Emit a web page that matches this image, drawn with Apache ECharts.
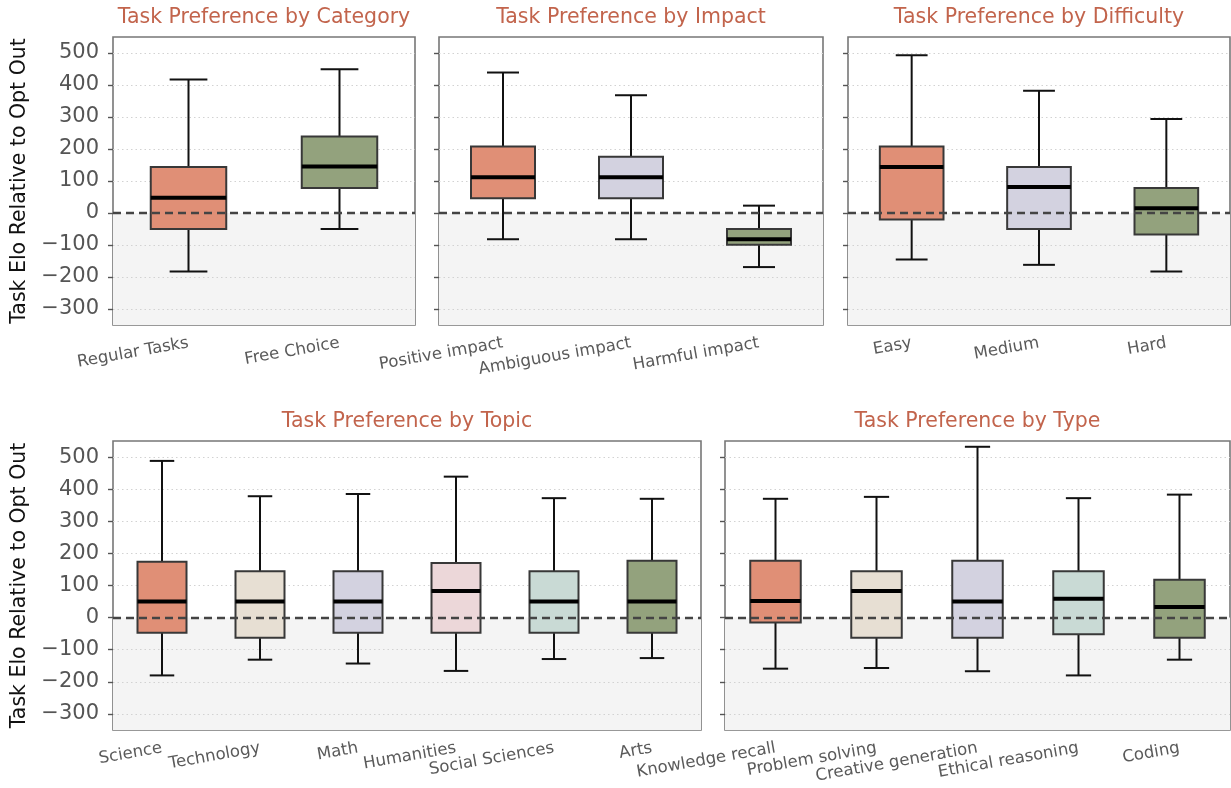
<!DOCTYPE html>
<html>
<head>
<meta charset="utf-8">
<script src="https://cdn.jsdelivr.net/npm/echarts@6/dist/echarts.min.js"></script>
<style>
  html, body { margin: 0; padding: 0; background: #ffffff; }
  #chart { width: 1231px; height: 788px; }
</style>
</head>
<body>
<div id="chart"></div>
<script>
// Category labels for each panel
const categoryNames = ['Regular Tasks', 'Free Choice'];
const impactNames = ['Positive impact', 'Ambiguous impact', 'Harmful impact'];
const difficultyNames = ['Easy', 'Medium', 'Hard'];
const topicNames = ['Science', 'Technology', 'Math', 'Humanities', 'Social Sciences', 'Arts'];
const typeNames = ['Knowledge recall', 'Problem solving', 'Creative generation', 'Ethical reasoning', 'Coding'];

// Box statistics per category: [lower whisker, Q1, median, Q3, upper whisker]
const categoryStats = [
  [-183, -50, 48, 144, 417],
  [-50, 78, 145, 239, 449]
];
const impactStats = [
  [-82, 46, 112, 208, 439],
  [-82, 46, 112, 176, 368],
  [-169, -99, -82, -50, 23]
];
const difficultyStats = [
  [-145, -20, 144, 208, 493],
  [-162, -50, 81, 144, 382],
  [-183, -67, 15, 78, 294]
];
const topicStats = [
  [-180, -47, 50, 174, 488],
  [-131, -63, 50, 144, 378],
  [-143, -47, 50, 144, 385],
  [-166, -47, 83, 170, 439],
  [-129, -47, 50, 144, 372],
  [-126, -47, 50, 177, 370]
];
const typeStats = [
  [-159, -15, 52, 177, 370],
  [-157, -63, 83, 144, 376],
  [-167, -63, 50, 177, 532],
  [-180, -52, 59, 144, 372],
  [-131, -63, 33, 118, 383]
];

// Y axis tick values
const yTicks = [-300, -200, -100, 0, 100, 200, 300, 400, 500];

// Fill colours
const C = {
  orange: '#E08F76',
  green: '#93A27D',
  lavender: '#D3D2E0',
  beige: '#E7DFD3',
  pink: '#ECD7D9',
  teal: '#C9DAD5'
};

const panels = [
  { title: 'Task Preference by Category', names: categoryNames, stats: categoryStats,
    colors: [C.orange, C.green], left: 113, top: 37, width: 302, height: 288, yLabels: true },
  { title: 'Task Preference by Impact', names: impactNames, stats: impactStats,
    colors: [C.orange, C.lavender, C.green], left: 439, top: 37, width: 384, height: 288, yLabels: false },
  { title: 'Task Preference by Difficulty', names: difficultyNames, stats: difficultyStats,
    colors: [C.orange, C.lavender, C.green], left: 848, top: 37, width: 382, height: 288, yLabels: false },
  { title: 'Task Preference by Topic', names: topicNames, stats: topicStats,
    colors: [C.orange, C.beige, C.lavender, C.pink, C.teal, C.green], left: 113, top: 441, width: 588, height: 289, yLabels: true },
  { title: 'Task Preference by Type', names: typeNames, stats: typeStats,
    colors: [C.orange, C.beige, C.lavender, C.teal, C.green], left: 725, top: 441, width: 505, height: 289, yLabels: false }
];

const FONT = '"DejaVu Sans", "Noto Sans", sans-serif';

function fmtTick(v) {
  return v < 0 ? '\u2212' + (-v) : String(v);
}

// Box-and-whisker glyph drawn through the axis scales
function renderBox(params, api) {
  const x = api.value(0);
  const lo = api.coord([x, api.value(1)]);
  const q1 = api.coord([x, api.value(2)]);
  const md = api.coord([x, api.value(3)]);
  const q3 = api.coord([x, api.value(4)]);
  const hi = api.coord([x, api.value(5)]);
  const band = api.size([1, 0])[0];
  const hw = band * 0.25;
  const cw = band * 0.125;
  const cx = md[0];
  const wStyle = { stroke: '#111111', lineWidth: 2 };
  return {
    type: 'group',
    children: [
      { type: 'line', shape: { x1: cx, y1: hi[1], x2: cx, y2: q3[1] }, style: wStyle },
      { type: 'line', shape: { x1: cx, y1: q1[1], x2: cx, y2: lo[1] }, style: wStyle },
      { type: 'line', shape: { x1: cx - cw, y1: hi[1], x2: cx + cw, y2: hi[1] }, style: wStyle },
      { type: 'line', shape: { x1: cx - cw, y1: lo[1], x2: cx + cw, y2: lo[1] }, style: wStyle },
      { type: 'rect', shape: { x: cx - hw, y: q3[1], width: 2 * hw, height: q1[1] - q3[1] },
        style: { fill: api.visual('color'), stroke: '#383838', lineWidth: 2 } },
      { type: 'line', shape: { x1: cx - hw, y1: md[1], x2: cx + hw, y2: md[1] },
        style: { stroke: '#000000', lineWidth: 4 } }
    ]
  };
}

const grid = [], xAxis = [], yAxis = [], series = [], graphic = [];

panels.forEach((p, i) => {
  grid.push({ left: p.left, top: p.top, width: p.width, height: p.height,
    show: true, borderColor: '#777777', borderWidth: 1.6, backgroundColor: 'transparent' });

  xAxis.push({
    type: 'category', gridIndex: i, data: p.names,
    axisLine: { show: false },
    axisTick: { show: true, alignWithLabel: true, length: 5, lineStyle: { color: '#555555', width: 1.4 } },
    axisLabel: { rotate: 10, interval: 0, margin: 18, fontSize: 16.5, color: '#5a5a5a', fontFamily: FONT },
    splitLine: { show: false }
  });

  yAxis.push({
    type: 'value', gridIndex: i, min: -350, max: 550,
    name: p.yLabels ? 'Task Elo Relative to Opt Out' : '',
    nameLocation: 'middle', nameGap: 83,
    nameTextStyle: { fontSize: 20.5, color: '#111111', fontFamily: FONT },
    axisLine: { show: false },
    axisTick: { show: true, customValues: yTicks, length: 5, lineStyle: { color: '#555555', width: 1.4 } },
    axisLabel: { show: p.yLabels, customValues: yTicks, formatter: fmtTick, margin: 14,
      fontSize: 21, color: '#555555', fontFamily: FONT },
    splitLine: { show: false }
  });

  // Shaded region below zero plus dotted grid lines
  series.push({
    type: 'line', xAxisIndex: i, yAxisIndex: i, data: [], silent: true, z: 1,
    markArea: {
      silent: true, z: 1,
      itemStyle: { color: '#f4f4f4' },
      data: [[{ yAxis: -350 }, { yAxis: 0 }]]
    },
    markLine: {
      silent: true, z: 2, symbol: 'none', animation: false,
      label: { show: false },
      lineStyle: { color: '#d2d2d2', width: 1, type: [1.5, 3] },
      data: yTicks.filter(v => v !== 0).map(v => ({ yAxis: v }))
    }
  });

  // Boxes
  series.push({
    type: 'custom', xAxisIndex: i, yAxisIndex: i, z: 3, renderItem: renderBox,
    encode: { x: 0, y: [1, 2, 3, 4, 5] },
    data: p.stats.map((s, k) => ({ value: [k].concat(s), itemStyle: { color: p.colors[k] } }))
  });

  // Dashed zero reference line on top
  series.push({
    type: 'line', xAxisIndex: i, yAxisIndex: i, data: [], silent: true, z: 5,
    markLine: {
      silent: true, z: 6, symbol: 'none', animation: false,
      label: { show: false },
      lineStyle: { color: '#444444', width: 2.4, type: [8, 5] },
      data: [{ yAxis: 0 }]
    }
  });

  graphic.push({
    type: 'text',
    x: p.left + p.width / 2,
    y: p.top - 19,
    style: { text: p.title, fill: '#C2644C', font: '20.5px ' + FONT, align: 'center', verticalAlign: 'middle' }
  });
});

const chart = echarts.init(document.getElementById('chart'), null, { renderer: 'canvas' });
chart.setOption({
  animation: false,
  backgroundColor: '#ffffff',
  grid, xAxis, yAxis, series, graphic
});
</script>
</body>
</html>
